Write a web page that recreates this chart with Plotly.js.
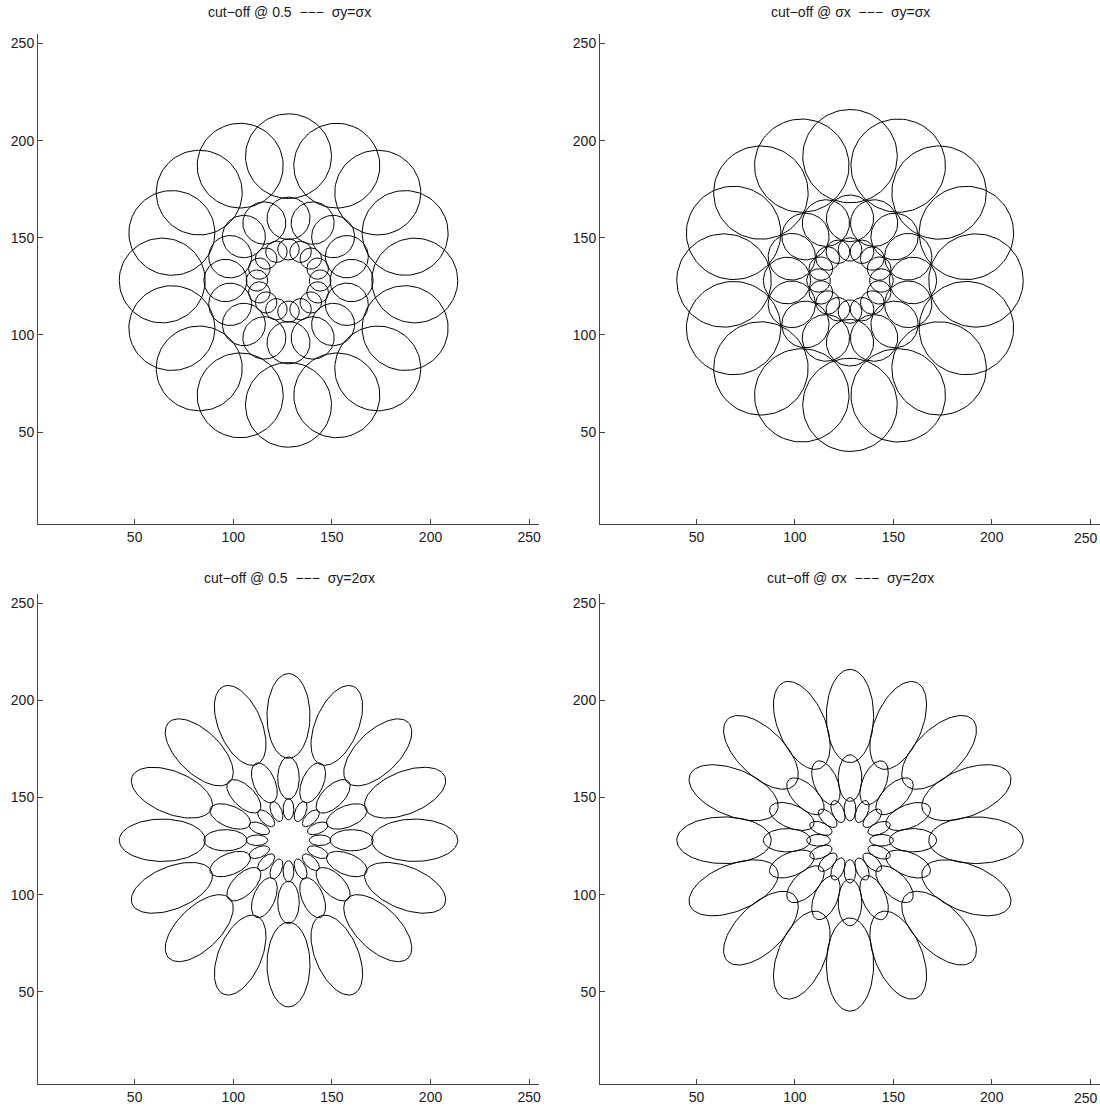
<!DOCTYPE html>
<html>
<head>
<meta charset="utf-8">
<script src="https://cdn.plot.ly/plotly-3.0.1.min.js"></script>
<style>html,body{margin:0;padding:0;background:#fff;}#chart{width:1100px;height:1111px;}</style>
</head>
<body>
<div id="chart"></div>
<script>
// ---- data ----
const CENTER_X = 128;
const CENTER_Y = 128;
const RING_DIST = [16, 32, 64];
const ORIENTATIONS_DEG = [0, 22.5, 45, 67.5, 90, 112.5, 135, 157.5, 180, 202.5, 225, 247.5, 270, 292.5, 315, 337.5];
// semi-axes per ring (radial direction, tangential direction)
const TL_RADIAL = [5.45, 10.9, 21.8];
const TL_TANGENTIAL = [5.45, 10.9, 21.8];
const TR_RADIAL = [6, 12, 24];
const TR_TANGENTIAL = [6, 12, 24];
const BL_RADIAL = [5.45, 10.9, 21.8];
const BL_TANGENTIAL = [2.72, 5.45, 10.9];
const BR_RADIAL = [6, 12, 24];
const BR_TANGENTIAL = [3, 6, 12];
const SP = '\u00a0\u00a0';
const TITLES = [
  'cut\u2212off @ 0.5' + SP + '\u2212\u2212\u2212' + SP + '\u03c3y=\u03c3x',
  'cut\u2212off @ \u03c3x' + SP + '\u2212\u2212\u2212' + SP + '\u03c3y=\u03c3x',
  'cut\u2212off @ 0.5' + SP + '\u2212\u2212\u2212' + SP + '\u03c3y=2\u03c3x',
  'cut\u2212off @ \u03c3x' + SP + '\u2212\u2212\u2212' + SP + '\u03c3y=2\u03c3x'
];
const TICK_VALUES = [50, 100, 150, 200, 250];
const TICK_TEXT = ['50', '100', '150', '200', '250'];
const X_RANGE = [1, 255];
const Y_RANGE = [2.5, 255];

function ellipseBank(radial, tangential) {
  const xs = [], ys = [];
  const N = 90;
  RING_DIST.forEach((d, i) => {
    ORIENTATIONS_DEG.forEach(deg => {
      const th = deg * Math.PI / 180;
      const cx = CENTER_X + d * Math.cos(th);
      const cy = CENTER_Y + d * Math.sin(th);
      for (let k = 0; k <= N; k++) {
        const t = 2 * Math.PI * k / N;
        const u = radial[i] * Math.cos(t);
        const v = tangential[i] * Math.sin(t);
        xs.push(cx + u * Math.cos(th) - v * Math.sin(th));
        ys.push(cy + u * Math.sin(th) + v * Math.cos(th));
      }
      xs.push(null); ys.push(null);
    });
  });
  return {xs, ys};
}

const panels = [
  [TL_RADIAL, TL_TANGENTIAL, 'x', 'y'],
  [TR_RADIAL, TR_TANGENTIAL, 'x2', 'y2'],
  [BL_RADIAL, BL_TANGENTIAL, 'x3', 'y3'],
  [BR_RADIAL, BR_TANGENTIAL, 'x4', 'y4']
];
const traces = panels.map(p => {
  const e = ellipseBank(p[0], p[1]);
  return {x: e.xs, y: e.ys, xaxis: p[2], yaxis: p[3], type: 'scatter', mode: 'lines',
    line: {color: '#000', width: 1}, hoverinfo: 'skip', connectgaps: false};
});

const W = 1100, H = 1111;
const tickFont = {family: 'Liberation Sans, Arial, sans-serif', size: 14, color: '#1a1a1a'};
function xax(l, r, anchor, edge) {
  // on the right-hand panels the last label sits at the page edge; it is drawn as an annotation instead
  const txt = edge ? TICK_TEXT.map((t, i) => i === TICK_TEXT.length - 1 ? '' : t) : TICK_TEXT;
  return {domain: [l / W, r / W], range: X_RANGE, anchor: anchor, tickmode: 'array',
    tickvals: TICK_VALUES, ticktext: txt,
    ticks: 'inside', ticklen: 5, tickcolor: '#444', showline: true, linecolor: '#444', linewidth: 1,
    showgrid: false, zeroline: false, tickfont: tickFont, fixedrange: true};
}
function yax(top, bottom, anchor) {
  return {domain: [(H - bottom) / H, (H - top) / H], range: Y_RANGE, anchor: anchor, tickmode: 'array',
    tickvals: TICK_VALUES, ticktext: TICK_TEXT,
    ticks: 'inside', ticklen: 5, tickcolor: '#444', showline: true, linecolor: '#444', linewidth: 1,
    showgrid: false, zeroline: false, tickfont: tickFont, fixedrange: true};
}
const titleFont = {family: 'Liberation Sans, Arial, sans-serif', size: 14, color: '#1a1a1a'};
function title(text, xc, yc) {
  return {text: text, xref: 'paper', yref: 'paper', x: xc / W, y: 1 - yc / H,
    xanchor: 'center', yanchor: 'middle', showarrow: false, font: titleFont};
}
function edgeLabel(xref, axisBottom) {
  return {text: TICK_TEXT[TICK_TEXT.length - 1], xref: xref, yref: 'paper',
    x: TICK_VALUES[TICK_VALUES.length - 1], y: (H - axisBottom) / H,
    xanchor: 'right', yanchor: 'top', xshift: 10, yshift: -4, showarrow: false, font: tickFont};
}

const layout = {
  width: W, height: H, margin: {l: 0, r: 0, t: 0, b: 0},
  paper_bgcolor: '#fff', plot_bgcolor: '#fff', showlegend: false,
  xaxis: xax(38, 539, 'y', false), yaxis: yax(33.8, 524.3, 'x'),
  xaxis2: xax(600, 1100, 'y2', true), yaxis2: yax(33.8, 524.3, 'x2'),
  xaxis3: xax(38, 539, 'y3', false), yaxis3: yax(593.6, 1084, 'x3'),
  xaxis4: xax(600, 1100, 'y4', true), yaxis4: yax(593.6, 1084, 'x4'),
  annotations: [
    title(TITLES[0], 289, 12), title(TITLES[1], 850, 12),
    title(TITLES[2], 289, 578), title(TITLES[3], 850, 578),
    edgeLabel('x2', 524.3), edgeLabel('x4', 1084)
  ]
};
Plotly.newPlot('chart', traces, layout, {staticPlot: true, displayModeBar: false});
</script>
</body>
</html>
